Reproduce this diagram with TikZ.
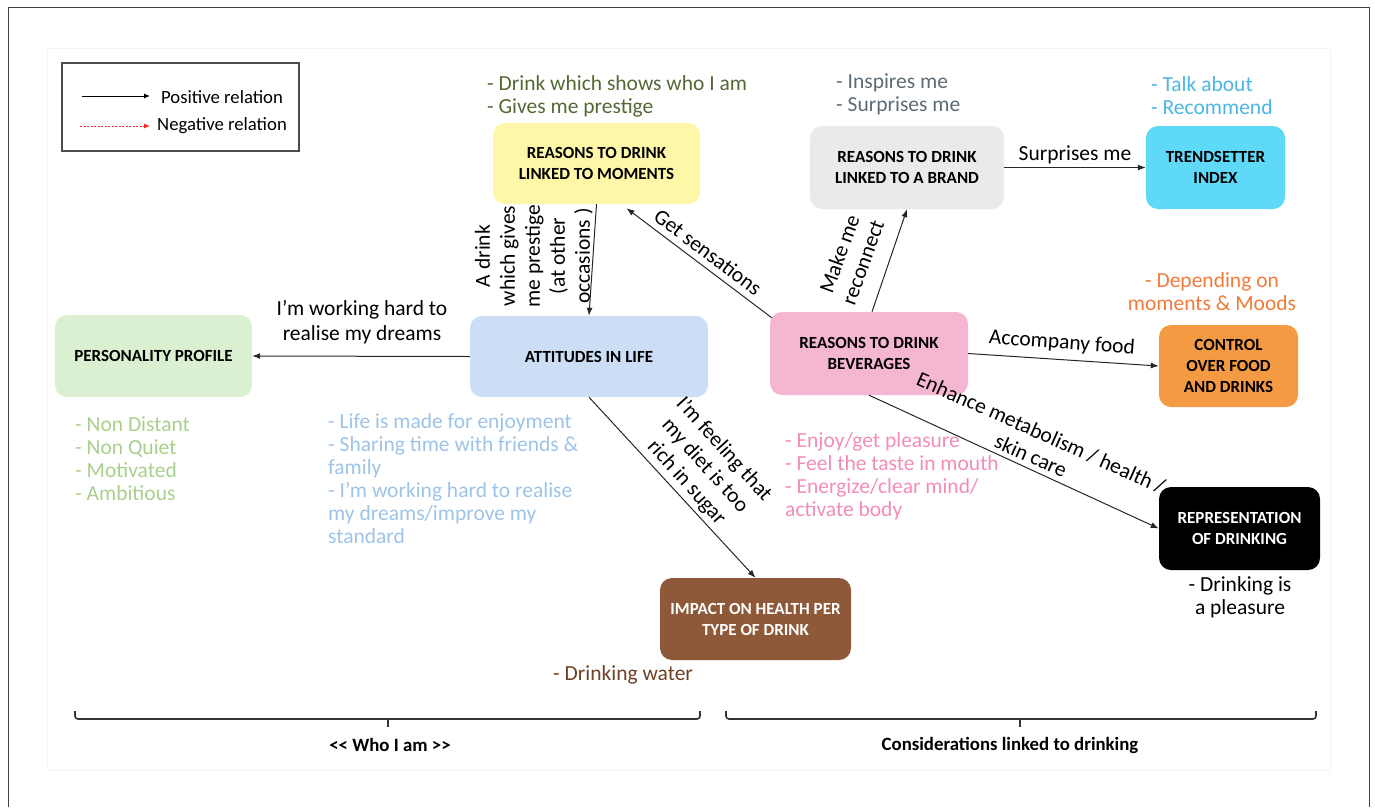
\documentclass[tikz,border=0pt]{standalone}
\usepackage{fontspec}
\setmainfont{Carlito}
\usetikzlibrary{arrows.meta,calc}
\definecolor{cYellow}{RGB}{255,247,168}
\definecolor{cGray}{RGB}{234,234,234}
\definecolor{cCyan}{RGB}{94,217,248}
\definecolor{cGreen}{RGB}{218,240,208}
\definecolor{cBlue}{RGB}{204,221,246}
\definecolor{cPink}{RGB}{245,182,209}
\definecolor{cOrange}{RGB}{244,154,66}
\definecolor{cBrown}{RGB}{141,89,56}
\definecolor{tOlive}{RGB}{84,104,52}
\definecolor{tSlate}{RGB}{92,106,116}
\definecolor{tCyan}{RGB}{76,182,226}
\definecolor{tOrange}{RGB}{240,122,58}
\definecolor{tGreen}{RGB}{168,208,140}
\definecolor{tBlue}{RGB}{157,195,230}
\definecolor{tPink}{RGB}{242,140,184}
\definecolor{tBrown}{RGB}{110,64,36}
\tikzset{
  box/.style={rounded corners=12pt, draw=none, align=center, inner sep=2pt,
    font=\bfseries\fontsize{17}{21}\selectfont},
  lbl/.style={inner sep=0pt, align=center, font=\fontsize{21.5}{25}\selectfont},
  note/.style={inner sep=0pt, align=left, anchor=north west, font=\fontsize{21.5}{23}\selectfont},
  arr/.style={-{Latex[length=8pt,width=6pt]}, line width=1pt, black!85},
  brk/.style={line width=1.6pt, black!80, rounded corners=3pt},
  legtxt/.style={inner sep=0pt, anchor=west, font=\fontsize{18.7}{21}\selectfont}
}
\begin{document}
\begin{tikzpicture}[x=1pt,y=-1pt]
\useasboundingbox (0,0) rectangle (1375,807);
% frames
\draw[black!4, line width=0.8pt] (47,48) rectangle (1330,770);
\draw[black!75, line width=1pt] (8,807) -- (8,7) -- (1369,7) -- (1369,807);
% legend
\node[draw=black!70, line width=1.4pt, minimum width=237pt, minimum height=88pt, inner sep=0pt] (legend) at (180.5,107) {};
\coordinate (p1) at (82,96); \coordinate (p2) at (150,96);
\coordinate (n1) at (80,126); \coordinate (n2) at (150,126);
\draw[-{Latex[length=6pt,width=5pt]}, line width=1pt] (p1) -- (p2);
\draw[-{Latex[length=6pt,width=5pt]}, red!85, dashed, dash pattern=on 2pt off 1.5pt, line width=0.9pt] (n1) -- (n2);
\node[legtxt] (lpos) at (161,97) {Positive relation};
\node[legtxt] (lneg) at (157,126) {Negative relation};
% boxes
\node[box, fill=cYellow, minimum width=207pt, minimum height=81pt] (moments) at (596.5,163.5) {REASONS TO DRINK\\LINKED TO MOMENTS};
\node[box, fill=cGray, minimum width=194pt, minimum height=83pt] (brand) at (907,167.5) {REASONS TO DRINK\\LINKED TO A BRAND};
\node[box, fill=cCyan, minimum width=139pt, minimum height=83pt] (trend) at (1215.5,167.5) {TRENDSETTER\\INDEX};
\node[box, fill=cGreen, minimum width=197pt, minimum height=82pt] (person) at (153.5,356) {PERSONALITY PROFILE};
\node[box, fill=cBlue, minimum width=238pt, minimum height=81pt] (attit) at (589,356.5) {ATTITUDES IN LIFE};
\node[box, fill=cPink, minimum width=198pt, minimum height=83pt] (bever) at (869,353.5) {REASONS TO DRINK\\BEVERAGES};
\node[box, fill=cOrange, minimum width=139pt, minimum height=82pt] (control) at (1228.5,366) {CONTROL\\OVER FOOD\\AND DRINKS};
\node[box, fill=black, text=white, minimum width=161pt, minimum height=83pt] (repr) at (1239.5,528.5) {REPRESENTATION\\OF DRINKING};
\node[box, fill=cBrown, text=white, minimum width=191pt, minimum height=82pt] (impact) at (755.5,619) {IMPACT ON HEALTH PER\\TYPE OF DRINK};
% connectors
\draw[arr] (attit.west) -- (person.east);
\draw[arr] (moments.south) -- (attit.north);
\draw[arr] ($(bever.north west)+(2,6)$) -- ($(moments.south)+(30,4)$);
\draw[arr] ($(bever.north)+(3,0)$) -- (brand.south);
\draw[arr] (brand.east) -- (trend.west);
\draw[arr] (bever.east) -- (control.west);
\draw[arr] (bever.south) -- (repr.west);
\draw[arr] (attit.south) -- (impact.north);
% connector labels
\node[lbl] (l1) at (362,322) {I’m working hard to\\realise my dreams};
\node[lbl, rotate=90] (l2) at (534,256) {A drink\\which gives\\me prestige\\(at other\\occasions )};
\node[lbl, rotate=-37] (l3) at (708,252) {Get sensations};
\node[lbl, rotate=70] (l4) at (851,258) {Make me\\reconnect};
\node[lbl] (l5) at (1075,155) {Surprises me};
\node[lbl, rotate=-4] (l6) at (1062,343) {Accompany food};
\node[lbl, rotate=-24] (l7) at (1036,444) {Enhance metabolism / health /\\skin care};
\node[lbl, rotate=-48] (l8) at (705,466) {I’m feeling that\\my diet is too\\rich in sugar};
% notes
\node[note, text=tOlive] (n1t) at (487,75) {- Drink which shows who I am\\- Gives me prestige};
\node[note, text=tSlate] (n2t) at (836,74) {- Inspires me\\- Surprises me};
\node[note, text=tCyan] (n3t) at (1151,76) {- Talk about\\- Recommend};
\node[note, text=tOrange, align=center, anchor=north] (n4t) at (1212,272) {- Depending on\\moments \& Moods};
\node[note, text=tGreen] (n5t) at (75,416) {- Non Distant\\- Non Quiet\\- Motivated\\- Ambitious};
\node[note, text=tBlue] (n6t) at (328,413) {- Life is made for enjoyment\\- Sharing time with friends \&\\family\\- I’m working hard to realise\\my dreams/improve my\\standard};
\node[note, text=tPink] (n7t) at (785,432) {- Enjoy/get pleasure\\- Feel the taste in mouth\\- Energize/clear mind/\\activate body};
\node[note, align=center, anchor=north] (n8t) at (1240,576) {- Drinking is\\a pleasure};
\node[note, text=tBrown] (n9t) at (553,665) {- Drinking water};
% brackets
\draw[brk] (75,711) -- (75,719) -- (700,719) -- (700,711);
\draw[brk] (388,719) -- (388,727);
\draw[brk] (726,711) -- (726,719) -- (1316,719) -- (1316,711);
\draw[brk] (1020,719) -- (1020,727);
\node[lbl, font=\bfseries\fontsize{18.8}{21}\selectfont] (who) at (390,745) {<\kern0pt< Who I am >\kern0pt>};
\node[lbl, font=\bfseries\fontsize{18.8}{21}\selectfont] (cons) at (1010,745) {Considerations linked to drinking};
\end{tikzpicture}
\end{document}
